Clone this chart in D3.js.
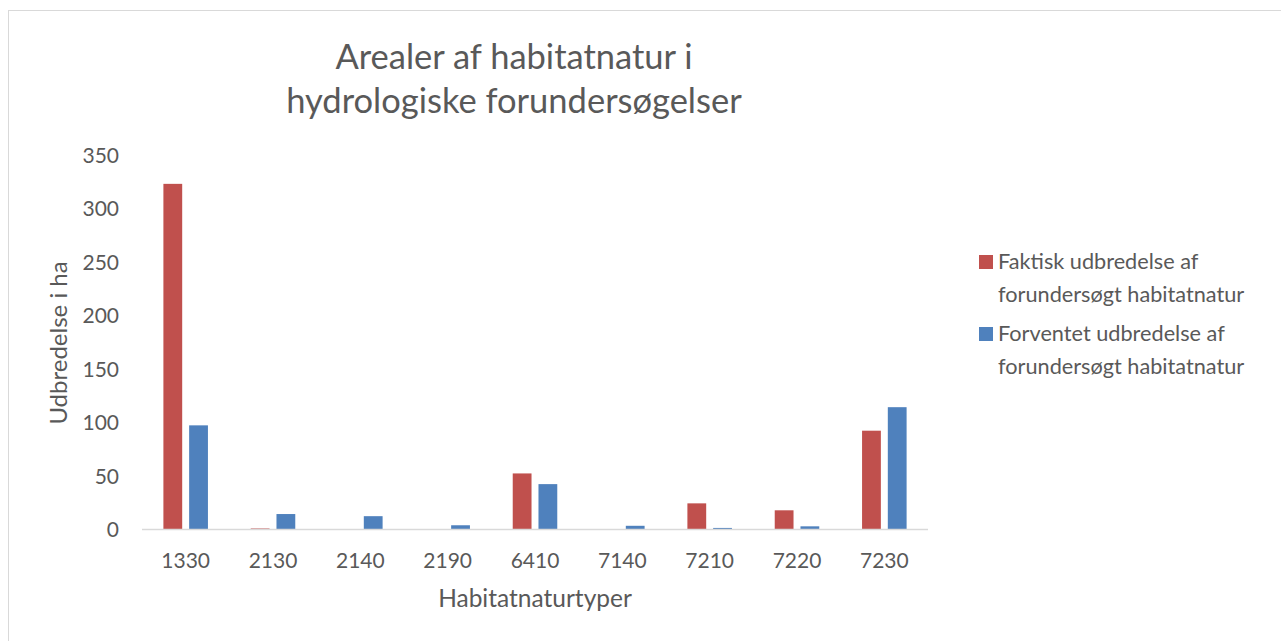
<!DOCTYPE html>
<html>
<head>
<meta charset="utf-8">
<script src="https://cdn.jsdelivr.net/npm/d3@7"></script>
<style>
  html, body { margin: 0; padding: 0; background: #fff; }
  svg { display: block; font-family: Lato, "Open Sans", sans-serif; }
</style>
</head>
<body>
<svg id="chart" width="1281" height="641"></svg>
<script>
const categories = ["1330", "2130", "2140", "2190", "6410", "7140", "7210", "7220", "7230"];
const faktisk   = [323, 0.5, 0, 0, 52, 0, 24, 17.5, 92];
const forventet = [97, 14, 12, 3.5, 42, 3, 1, 2.5, 114];
const seriesNames = ["Faktisk udbredelse af forundersøgt habitatnatur", "Forventet udbredelse af forundersøgt habitatnatur"];
const legendLines = [["Faktisk udbredelse af", "forundersøgt habitatnatur"], ["Forventet udbredelse af", "forundersøgt habitatnatur"]];
const yTicks = [0, 50, 100, 150, 200, 250, 300, 350];
const titleLines = ["Arealer af habitatnatur i", "hydrologiske forundersøgelser"];
const yTitle = "Udbredelse i ha";
const xTitle = "Habitatnaturtyper";

const colors = ["#C0504D", "#4F81BD"];
const textColor = "#595959";

const svg = d3.select("#chart");
const W = 1281, H = 641;
svg.append("rect").attr("x", 0).attr("y", 0).attr("width", W).attr("height", H).attr("fill", "#fff");
// chart area border
svg.append("rect").attr("x", 8.5).attr("y", 10.5).attr("width", W + 10).attr("height", H + 10)
  .attr("fill", "none").attr("stroke", "#d9d9d9").attr("stroke-width", 1);

const plot = { left: 142, right: 928, top: 155, bottom: 529 };

const x0 = d3.scaleBand().domain(categories).range([plot.left, plot.right])
  .paddingInner(0.49).paddingOuter(0.245);
const x1 = d3.scaleBand().domain([0, 1]).range([0, x0.bandwidth()]).paddingInner(0.27);
const y = d3.scaleLinear().domain([0, 350]).range([plot.bottom, plot.top]);

const data = categories.map((c, i) => ({ cat: c, vals: [faktisk[i], forventet[i]] }));

// bars
const groups = svg.append("g").selectAll("g").data(data).join("g")
  .attr("transform", d => `translate(${x0(d.cat)},0)`);
groups.selectAll("rect").data(d => d.vals.map((v, s) => ({ v, s }))).join("rect")
  .attr("x", d => x1(d.s))
  .attr("width", x1.bandwidth())
  .attr("y", d => y(d.v))
  .attr("height", d => y(0) - y(d.v))
  .attr("fill", d => colors[d.s]);

// x axis line
svg.append("line").attr("x1", plot.left).attr("x2", plot.right)
  .attr("y1", y(0) + 0.5).attr("y2", y(0) + 0.5)
  .attr("stroke", "#d9d9d9").attr("stroke-width", 1.5);

// x axis labels
const xAxis = d3.axisBottom(x0).tickSize(0).tickPadding(0);
const gx = svg.append("g").attr("transform", `translate(0,${y(0)})`).call(xAxis);
gx.select(".domain").remove();
gx.selectAll("text").attr("dy", null).attr("y", 39).attr("fill", textColor)
  .attr("font-size", 21).attr("font-family", "Lato, sans-serif");

// y axis labels
const yAxis = d3.axisLeft(y).tickValues(yTicks).tickSize(0).tickPadding(0);
const gy = svg.append("g").attr("transform", `translate(119,0)`).call(yAxis);
gy.select(".domain").remove();
gy.selectAll("text").attr("x", 0).attr("dy", "0.36em").attr("fill", textColor)
  .attr("font-size", 21).attr("font-family", "Lato, sans-serif");

// title
svg.append("g").selectAll("text").data(titleLines).join("text")
  .attr("x", 514).attr("y", (d, i) => 69 + i * 44)
  .attr("text-anchor", "middle").attr("fill", textColor)
  .attr("font-size", 34.5).text(d => d);

// y title
svg.append("text").attr("transform", `translate(67,${(plot.top + plot.bottom) / 2 + 1}) rotate(-90)`)
  .attr("text-anchor", "middle").attr("fill", textColor).attr("font-size", 24).text(yTitle);

// x title
svg.append("text").attr("x", 535).attr("y", 607).attr("text-anchor", "middle")
  .attr("fill", textColor).attr("font-size", 24.5).text(xTitle);

// legend
const leg = svg.append("g").selectAll("g").data(legendLines).join("g")
  .attr("transform", (d, i) => `translate(979,${255 + i * 72})`);
leg.append("rect").attr("width", 14).attr("height", 14).attr("fill", (d, i) => colors[i]);
leg.selectAll("text").data(d => d).join("text")
  .attr("x", 19).attr("y", (d, j) => 13.5 + j * 33.5)
  .attr("fill", textColor).attr("font-size", 21.7).text(d => d);
</script>
</body>
</html>
